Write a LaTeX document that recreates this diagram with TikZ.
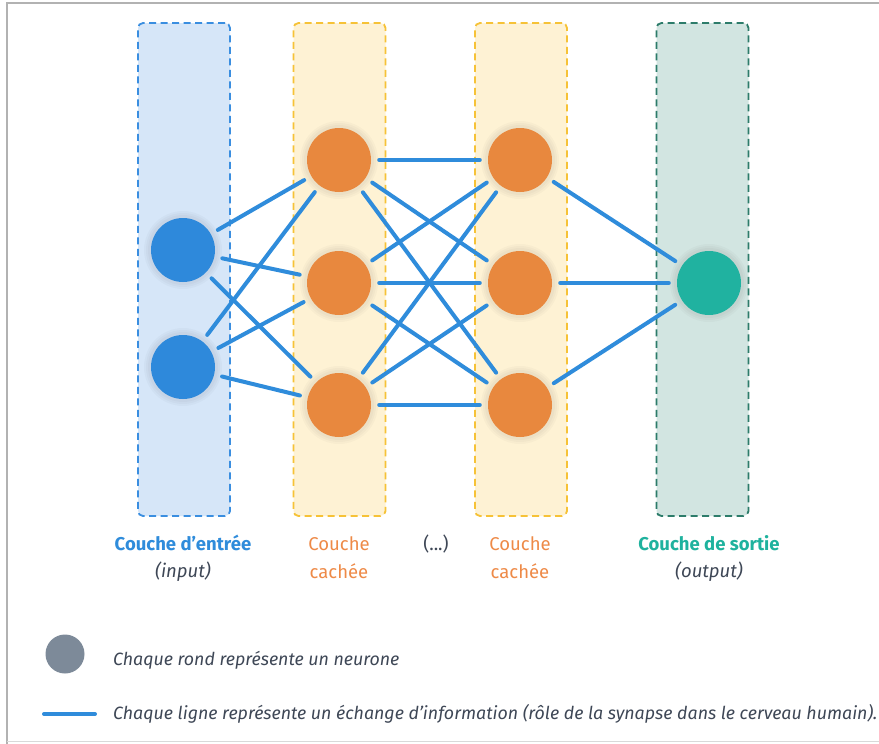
\documentclass[tikz,border=0pt]{standalone}
\usepackage{fontspec}
\setmainfont{Fira Sans}
\definecolor{lineblue}{HTML}{2F8CDB}
\definecolor{inblue}{HTML}{2E89DB}
\definecolor{inboxfill}{HTML}{D6E6F8}
\definecolor{inboxdraw}{HTML}{3A8EE0}
\definecolor{hidfill}{HTML}{FEF2D4}
\definecolor{hiddraw}{HTML}{F6C237}
\definecolor{orangeN}{HTML}{E8883E}
\definecolor{outfill}{HTML}{D2E5E1}
\definecolor{outdraw}{HTML}{2D7C6A}
\definecolor{tealN}{HTML}{20B2A0}
\definecolor{textgray}{HTML}{3E4756}
\definecolor{legendgray}{HTML}{7D8A99}
\definecolor{labelorange}{HTML}{EE8A47}
\definecolor{labelblue}{HTML}{2F8CDB}
\definecolor{labelteal}{HTML}{1FB29E}
\begin{document}
\begin{tikzpicture}[x=1pt,y=-1pt,
  layerbox/.style={rectangle, rounded corners=5pt, minimum width=92pt, minimum height=493pt,
    line width=1.8pt, dash pattern=on 7pt off 4.5pt, inner sep=0pt},
  neuron/.style={circle, minimum size=64pt, inner sep=0pt},
  glow/.style={fill=black, opacity=0.025},
  synapse/.style={lineblue, line width=4pt, line cap=round, shorten >=8pt, shorten <=8pt},
  lbl/.style={font=\fontsize{18.5}{22}\selectfont, inner sep=0pt},
  leg/.style={font=\fontsize{17.8}{21}\selectfont\itshape, text=textgray, inner sep=0pt, anchor=west}
]
\useasboundingbox (0,0) rectangle (879,744);
\fill[white] (0,0) rectangle (879,744);
% frame
\draw[black!30, line width=1.2pt] (7,744) -- (7,3) -- (879,3);
\draw[black!15, line width=1pt] (7,741) -- (879,741);

% layer boxes
\node[layerbox, fill=inboxfill, draw=inboxdraw] (boxin) at (184,269.5) {};
\node[layerbox, fill=hidfill, draw=hiddraw] (boxh1) at (339.5,269.5) {};
\node[layerbox, fill=hidfill, draw=hiddraw] (boxh2) at (521,269.5) {};
\node[layerbox, fill=outfill, draw=outdraw] (boxout) at (702.5,269.5) {};

% neuron positions
\coordinate (ci1) at (183,250);
\coordinate (ci2) at (183,367);
\coordinate (ch1) at (339,160);
\coordinate (ch2) at (339,283);
\coordinate (ch3) at (339,405);
\coordinate (cg1) at (520,160);
\coordinate (cg2) at (520,283);
\coordinate (cg3) at (520,405);
\coordinate (co) at (709,283);

% glows
\foreach \c in {ci1,ci2,ch1,ch2,ch3,cg1,cg2,cg3,co}{
  \fill[glow] (\c) circle (39pt);
  \fill[glow] (\c) circle (37pt);
  \fill[glow] (\c) circle (35pt);
}

% neurons
\node[neuron, fill=inblue] (i1) at (ci1) {};
\node[neuron, fill=inblue] (i2) at (ci2) {};
\node[neuron, fill=orangeN] (h1) at (ch1) {};
\node[neuron, fill=orangeN] (h2) at (ch2) {};
\node[neuron, fill=orangeN] (h3) at (ch3) {};
\node[neuron, fill=orangeN] (g1) at (cg1) {};
\node[neuron, fill=orangeN] (g2) at (cg2) {};
\node[neuron, fill=orangeN] (g3) at (cg3) {};
\node[neuron, fill=tealN] (o) at (co) {};

% synapses
\foreach \a in {i1,i2}{\foreach \b in {h1,h2,h3}{\draw[synapse] (\a) -- (\b);}}
\foreach \a in {h1,h2,h3}{\foreach \b in {g1,g2,g3}{\draw[synapse] (\a) -- (\b);}}
\foreach \a in {g1,g2,g3}{\draw[synapse] (\a) -- (o);}

% labels
\node[lbl, font=\fontsize{18.5}{22}\selectfont\bfseries, text=labelblue] (tin) at (183,543) {Couche d’entrée};
\node[lbl, font=\fontsize{18.5}{22}\selectfont\itshape, text=textgray] (tin2) at (183,572) {(input)};
\node[lbl, text=labelorange] (th1) at (339,544) {Couche};
\node[lbl, text=labelorange] (th1b) at (339,571) {cachée};
\node[lbl, text=textgray] (tdots) at (436,544) {(...)};
\node[lbl, text=labelorange] (tg1) at (520,544) {Couche};
\node[lbl, text=labelorange] (tg1b) at (520,571) {cachée};
\node[lbl, font=\fontsize{18.5}{22}\selectfont\bfseries, text=labelteal] (tout) at (709,543) {Couche de sortie};
\node[lbl, font=\fontsize{18.5}{22}\selectfont\itshape, text=textgray] (tout2) at (709,572) {(output)};

% legend
\node[circle, fill=legendgray, minimum size=39pt, inner sep=0pt] (lc) at (65,654) {};
\node[leg] (lt1) at (113,660) {Chaque rond représente un neurone};
\coordinate (la) at (44,714);
\coordinate (lb) at (95,714);
\draw[lineblue, line width=4pt, line cap=round] (la) -- (lb);
\node[leg] (lt2) at (113,714) {Chaque ligne représente un échange d’information (rôle de la synapse dans le cerveau humain).};
\end{tikzpicture}
\end{document}
